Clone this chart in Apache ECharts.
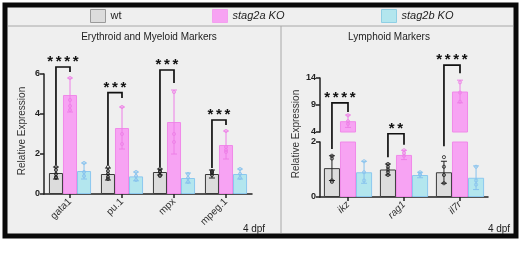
<!DOCTYPE html>
<html>
<head>
<meta charset="utf-8">
<script src="https://cdn.jsdelivr.net/npm/echarts@6/dist/echarts.min.js"></script>
<style>
html, body { margin: 0; padding: 0; background: #fff; }
#chart { width: 520px; height: 270px; }
</style>
</head>
<body>
<div id="chart"></div>
<script>
// left panel: erythroid / myeloid
const catsL = ['gata1', 'pu.1', 'mpx', 'mpeg.1']
const wtL = [1.05, 1.0, 1.1, 1.0]
const aL = [4.95, 3.3, 3.6, 2.45]
const bL = [1.15, 0.88, 0.8, 1.0]
const wtErrL = [0.3, 0.3, 0.15, 0.2]
const aErrL = [0.85, 1.05, 1.6, 0.7]
const bErrL = [0.4, 0.22, 0.25, 0.25]
const ptsWtL = [[1.35, 1.2, 1.0, 0.85, 0.8], [1.35, 1.15, 1.0, 0.85, 0.75], [1.25, 1.15, 1.1, 0.95, 0.9], [1.15, 1.1, 1.05, 0.95]]
const ptsAL = [[5.8, 4.7, 4.4, 4.2], [4.35, 3.0, 2.5], [5.1, 3.0, 2.6], [3.15, 2.35, 2.2, 2.1]]
const ptsBL = [[1.55, 1.1, 0.9], [1.1, 0.9, 0.7], [1.0, 0.8, 0.6], [1.25, 1.0, 0.8]]
// significance brackets: top, end of right leg, end of left leg
const sigTopL = [6.35, 5.07, 6.2, 3.7]
const sigRightL = [6.1, 4.8, 5.55, 3.45]
const sigLeftL = [1.45, 1.45, 1.35, 1.3]
const sigTextL = ['****', '***', '***', '***']
const ticksL = [0, 6, 2]

// right panel: lymphoid (broken axis 0-2 / 4-14)
const catsR = ['ikz', 'rag1', 'il7r']
const wtR = [1.05, 1.0, 0.9]
const aR = [6.0, 1.53, 11.5]
const bR = [0.9, 0.8, 0.7]
const wtErrR = [0.45, 0.2, 0.4]
const aErrR = [1.15, 0.17, 2.1]
const bErrR = [0.4, 0.1, 0.43]
const ptsWtR = [[1.5, 1.4, 0.6, 0.55], [1.2, 1.1, 1.0, 0.9, 0.8], [1.45, 1.1, 0.8, 0.5]]
const ptsAR = [[7.1, 6.0, 5.5], [1.7, 1.6, 1.5], [13.2, 11.3, 9.6]]
const ptsBR = [[1.3, 0.9, 0.6], [0.9, 0.85, 0.8], [1.1, 0.6, 0.45]]
// ikz and il7r brackets are on the upper axis, rag1 on the lower one
const sigTopR = [9.4, 2.3, 16.4]
const sigRightR = [7.7, 1.9, 14.9]
const sigLeftR = [1.75, 1.45, 1.85]
const sigTextR = ['****', '**', '****']
const ticksLow = [0, 2, 2]
const ticksUp = [4, 14, 5]

const names = ['wt', 'stag2a KO', 'stag2b KO']
const fills = ['#dcdcdc', '#f7a3f3', '#b3e6ee']
const borders = ['#3a3a3a', '#f08ae9', '#8cc8ef']
const legendBorders = ['#9a9a9a', '#f3a0ef', '#8fcfe4']
const errColors = ['#222', '#ee7fe7', '#86c2ee']
const font = 'Liberation Sans, Arial, sans-serif'
const BREAK = 10  // px between upper and lower right grids
const LOW = 2, UP = 4

const chart = echarts.init(document.getElementById('chart'))

function barX(api, idx, off, gap) {
    const bw = api.size([1, 0])[0]
    return api.coord([idx, UP])[0] + off * bw * (1 - gap) / 3
}

function errSeries(xi, vals, errs, off, gap, keep) {
    const data = []
    vals.forEach((v, i) => { if (keep(v)) data.push([i, v, errs[i]]) })
    return {
        type: 'custom', xAxisIndex: xi, yAxisIndex: xi, z: 5, silent: true,
        data,
        renderItem(params, api) {
            const idx = api.value(0), v = api.value(1), e = api.value(2)
            const x = barX(api, idx, off, gap)
            const top = api.coord([idx, v + e])[1]
            const bot = api.coord([idx, Math.max(v - e, 0)])[1]
            const style = { stroke: errColors[off + 1], lineWidth: 1 }
            return {
                type: 'group', children: [
                    { type: 'line', shape: { x1: x, y1: top, x2: x, y2: bot }, style },
                    { type: 'line', shape: { x1: x - 3, y1: top, x2: x + 3, y2: top }, style },
                    { type: 'line', shape: { x1: x - 3, y1: bot, x2: x + 3, y2: bot }, style }
                ]
            }
        }
    }
}

function ptSeries(xi, pts, off, gap, keep) {
    const data = []
    pts.forEach((arr, i) => arr.forEach(v => { if (keep(v)) data.push([i, v]) }))
    return {
        type: 'custom', xAxisIndex: xi, yAxisIndex: xi, z: 6, silent: true,
        data,
        renderItem(params, api) {
            const idx = api.value(0)
            const x = barX(api, idx, off, gap)
            const y = api.coord([idx, api.value(1)])[1]
            return {
                type: 'circle', shape: { cx: x, cy: y, r: 1.6 },
                style: { fill: 'none', stroke: errColors[off + 1], lineWidth: 0.8 }
            }
        }
    }
}

// bracket pieces; mode 'full' draws all, 'upper' leaves the left leg running into the break, 'lower' only the left leg below it
function sigSeries(xi, tops, rights, lefts, texts, gap, mode, keep) {
    const data = []
    tops.forEach((t, i) => { if (keep(i)) data.push([i, t, rights[i], lefts[i]]) })
    return {
        type: 'custom', xAxisIndex: xi, yAxisIndex: xi, z: 7, silent: true,
        data,
        renderItem(params, api) {
            const idx = api.value(0)
            const xl = barX(api, idx, -1, gap), xr = barX(api, idx, 0, gap)
            const style = { stroke: '#111', lineWidth: 1.7, fill: 'none' }
            if (mode === 'lower') {
                const y0 = api.coord([idx, LOW])[1]
                const y1 = api.coord([idx, api.value(3)])[1]
                return { type: 'line', shape: { x1: xl, y1: y0, x2: xl, y2: y1 }, style }
            }
            const yt = api.coord([idx, api.value(1)])[1]
            const yr = api.coord([idx, api.value(2)])[1]
            const yl = mode === 'upper' ? api.coord([idx, UP])[1] + BREAK : api.coord([idx, api.value(3)])[1]
            const n = texts[idx].length
            const stars = []
            for (let k = 0; k < n; k++) {
                stars.push({
                    type: 'text', x: (xl + xr) / 2 + (k - (n - 1) / 2) * 8.5, y: yt - 5,
                    style: { text: '*', fill: '#111', font: 'bold 15px ' + font, align: 'center', verticalAlign: 'middle' }
                })
            }
            return {
                type: 'group', children: [
                    { type: 'polyline', shape: { points: [[xl, yl], [xl, yt], [xr, yt], [xr, yr]] }, style }
                ].concat(stars)
            }
        }
    }
}

function bars(xi, vals, i, gap) {
    return {
        name: names[i], type: 'bar', xAxisIndex: xi, yAxisIndex: xi,
        data: vals, barGap: 0, barCategoryGap: gap, clip: true,
        itemStyle: { color: fills[i], borderColor: borders[i], borderWidth: 1 }
    }
}

const gapL = 0.19, gapR = 0.14
const yLabel = { fontSize: 9, fontWeight: 'bold', color: '#222', fontFamily: font, margin: 4 }
const axLine = { show: true, lineStyle: { color: '#222', width: 1.5 } }
const axTick = { show: true, length: 4, lineStyle: { color: '#222', width: 1.5 } }

const option = {
    backgroundColor: '#fff',
    animation: false,
    legend: names.map((n, i) => ({
        data: [n], left: [90, 212, 381][i], top: 9, padding: 0, selectedMode: false,
        icon: 'rect', itemWidth: 15, itemHeight: 13, itemGap: 5,
        itemStyle: { color: fills[i], borderColor: legendBorders[i], borderWidth: 1 },
        textStyle: { fontSize: 11, color: '#222', fontFamily: font, fontStyle: i ? 'italic' : 'normal' }
    })),
    grid: [
        { left: 44, top: 74, width: 208, height: 120 },
        { left: 320, top: 142, width: 168, height: 55 },
        { left: 320, top: 78, width: 168, height: 54 }
    ],
    xAxis: [
        {
            type: 'category', gridIndex: 0, data: catsL, axisLine: axLine,
            axisTick: { ...axTick, alignWithLabel: true },
            axisLabel: { rotate: 45, fontSize: 10, color: '#333', fontFamily: font, margin: 6 }
        },
        {
            type: 'category', gridIndex: 1, data: catsR, axisLine: axLine,
            axisTick: { ...axTick, alignWithLabel: true },
            axisLabel: { rotate: 45, fontSize: 10, color: '#333', fontFamily: font, fontStyle: 'italic', margin: 6 }
        },
        { type: 'category', gridIndex: 2, data: catsR, show: false }
    ],
    yAxis: [
        { type: 'value', gridIndex: 0, min: ticksL[0], max: ticksL[1], interval: ticksL[2], axisLine: axLine, axisTick: axTick, axisLabel: yLabel, splitLine: { show: false } },
        { type: 'value', gridIndex: 1, min: ticksLow[0], max: ticksLow[1], interval: ticksLow[2], axisLine: axLine, axisTick: axTick, axisLabel: yLabel, splitLine: { show: false } },
        { type: 'value', gridIndex: 2, min: ticksUp[0], max: ticksUp[1], interval: ticksUp[2], axisLine: axLine, axisTick: axTick, axisLabel: yLabel, splitLine: { show: false } }
    ],
    graphic: [
        { type: 'rect', z: -10, shape: { x: 5, y: 5, width: 511, height: 231 }, style: { fill: '#efefef', stroke: '#0a0a0a', lineWidth: 5 } },
        { type: 'line', z: -9, shape: { x1: 8, y1: 26, x2: 513, y2: 26 }, style: { stroke: '#a8a8a8', lineWidth: 1 } },
        { type: 'line', z: -9, shape: { x1: 281, y1: 26, x2: 281, y2: 233 }, style: { stroke: '#a8a8a8', lineWidth: 1 } },
        { type: 'text', x: 149, y: 37, style: { text: 'Erythroid and Myeloid Markers', font: '10px ' + font, fill: '#222', align: 'center', verticalAlign: 'middle' } },
        { type: 'text', x: 389, y: 37, style: { text: 'Lymphoid Markers', font: '10px ' + font, fill: '#222', align: 'center', verticalAlign: 'middle' } },
        { type: 'text', x: 22, y: 131, rotation: Math.PI / 2, style: { text: 'Relative Expression', font: '10px ' + font, fill: '#333', align: 'center', verticalAlign: 'middle' } },
        { type: 'text', x: 296, y: 134, rotation: Math.PI / 2, style: { text: 'Relative Expression', font: '10px ' + font, fill: '#333', align: 'center', verticalAlign: 'middle' } },
        { type: 'text', x: 254, y: 229, style: { text: '4 dpf', font: '10px ' + font, fill: '#222', align: 'center', verticalAlign: 'middle' } },
        { type: 'text', x: 499, y: 229, style: { text: '4 dpf', font: '10px ' + font, fill: '#222', align: 'center', verticalAlign: 'middle' } }
    ],
    series: [
        bars(0, wtL, 0, '19%'), bars(0, aL, 1, '19%'), bars(0, bL, 2, '19%'),
        bars(1, wtR, 0, '14%'), bars(1, aR, 1, '14%'), bars(1, bR, 2, '14%'),
        bars(2, wtR.map(() => '-'), 0, '14%'), bars(2, aR.map(v => v > UP ? v : '-'), 1, '14%'), bars(2, bR.map(() => '-'), 2, '14%'),
        errSeries(0, wtL, wtErrL, -1, gapL, () => true),
        errSeries(0, aL, aErrL, 0, gapL, () => true),
        errSeries(0, bL, bErrL, 1, gapL, () => true),
        errSeries(1, wtR, wtErrR, -1, gapR, () => true),
        errSeries(1, aR, aErrR, 0, gapR, v => v <= LOW),
        errSeries(2, aR, aErrR, 0, gapR, v => v > UP),
        errSeries(1, bR, bErrR, 1, gapR, () => true),
        ptSeries(0, ptsWtL, -1, gapL, () => true),
        ptSeries(0, ptsAL, 0, gapL, () => true),
        ptSeries(0, ptsBL, 1, gapL, () => true),
        ptSeries(1, ptsWtR, -1, gapR, () => true),
        ptSeries(1, ptsAR, 0, gapR, v => v <= LOW),
        ptSeries(2, ptsAR, 0, gapR, v => v > UP),
        ptSeries(1, ptsBR, 1, gapR, () => true),
        sigSeries(0, sigTopL, sigRightL, sigLeftL, sigTextL, gapL, 'full', () => true),
        sigSeries(2, sigTopR, sigRightR, sigLeftR, sigTextR, gapR, 'upper', i => sigTopR[i] > UP),
        sigSeries(1, sigTopR, sigRightR, sigLeftR, sigTextR, gapR, 'lower', i => sigTopR[i] > UP),
        sigSeries(1, sigTopR, sigRightR, sigLeftR, sigTextR, gapR, 'full', i => sigTopR[i] <= UP)
    ]
}

chart.setOption(option)
</script>
</body>
</html>
